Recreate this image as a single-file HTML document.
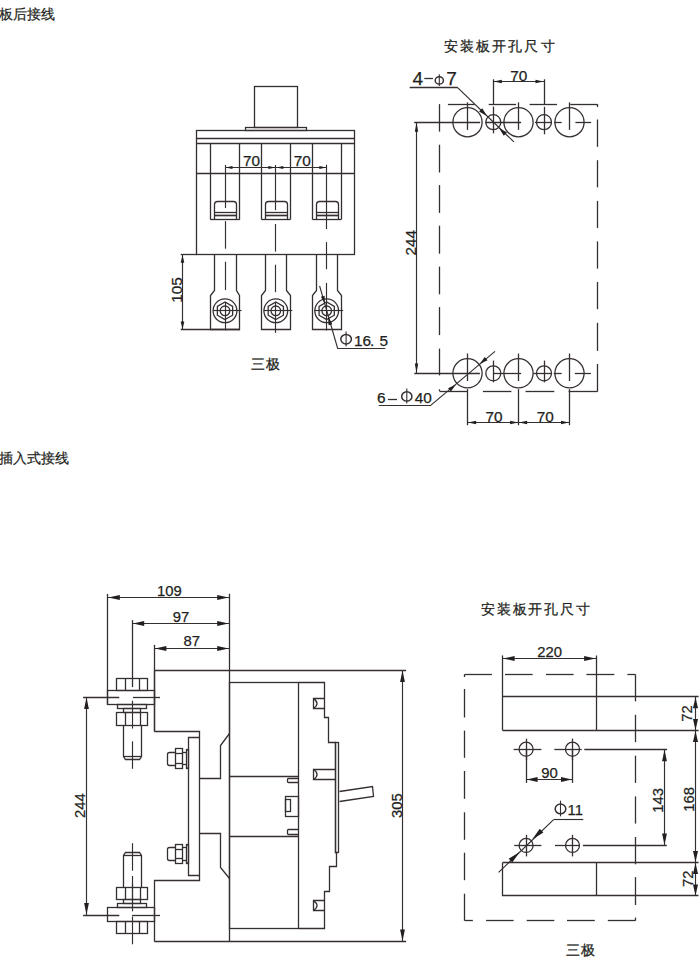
<!DOCTYPE html>
<html><head><meta charset="utf-8"><style>
html,body{margin:0;padding:0;background:#fff;}
body{width:700px;height:965px;overflow:hidden;position:relative;}
svg{position:absolute;left:0;top:0;}
text{font-family:"Liberation Sans",sans-serif;fill:#231f20;}
</style></head><body>
<svg width="700" height="965" viewBox="0 0 700 965">
<g stroke="#362f30" fill="none" stroke-linecap="butt">
<text  x="-1.0" y="19.0" font-size="13.50" text-anchor="start" stroke="#231f20" stroke-width="0.22">板后接线</text>
<text stroke="#231f20" stroke-width="0.25" x="444.0" y="51.0" font-size="14.00" text-anchor="start" letter-spacing="2.1">安装板开孔尺寸</text>
<text  x="-1.0" y="463.0" font-size="13.50" text-anchor="start" stroke="#231f20" stroke-width="0.22">插入式接线</text>
<text stroke="#231f20" stroke-width="0.25" x="481.0" y="613.5" font-size="14.00" text-anchor="start" letter-spacing="1.83">安装板开孔尺寸</text>
<text stroke="#231f20" stroke-width="0.25" x="251.0" y="369.0" font-size="14.00" text-anchor="start" letter-spacing="1">三极</text>
<text stroke="#231f20" stroke-width="0.25" x="566.0" y="954.5" font-size="14.00" text-anchor="start" letter-spacing="1">三极</text>
<rect x="254.5" y="86.5" width="43.0" height="41.0" fill="none" stroke-width="1.30"/>
<rect x="245.5" y="127.5" width="61.0" height="3.0" fill="none" stroke-width="1.30"/>
<rect x="196.5" y="130.5" width="158.0" height="124.0" fill="none" stroke-width="1.30"/>
<line x1="196.9" y1="138.5" x2="354.9" y2="138.5" stroke-width="1.30"/>
<line x1="196.9" y1="143.5" x2="354.9" y2="143.5" stroke-width="1.30"/>
<line x1="196.9" y1="173.5" x2="354.9" y2="173.5" stroke-width="1.30"/>
<line x1="210.5" y1="143.1" x2="210.5" y2="219.6" stroke-width="1.30"/>
<line x1="239.5" y1="143.1" x2="239.5" y2="219.6" stroke-width="1.30"/>
<line x1="210.4" y1="219.5" x2="239.7" y2="219.5" stroke-width="1.30"/>
<line x1="261.5" y1="143.1" x2="261.5" y2="219.6" stroke-width="1.30"/>
<line x1="290.5" y1="143.1" x2="290.5" y2="219.6" stroke-width="1.30"/>
<line x1="261.4" y1="219.5" x2="290.3" y2="219.5" stroke-width="1.30"/>
<line x1="312.5" y1="143.1" x2="312.5" y2="219.6" stroke-width="1.30"/>
<line x1="341.5" y1="143.1" x2="341.5" y2="219.6" stroke-width="1.30"/>
<line x1="312.5" y1="219.5" x2="341.2" y2="219.5" stroke-width="1.30"/>
<path d="M214.5,219.5 V204.5 Q214.5,201.5 217.5,201.5 H233.5 Q236.5,201.5 236.5,204.5 V219.5" stroke-width="1.30" fill="none"/>
<line x1="214.4" y1="212.5" x2="236.4" y2="212.5" stroke-width="1.30"/>
<line x1="214.4" y1="215.5" x2="236.4" y2="215.5" stroke-width="1.69"/>
<line x1="225.5" y1="165.0" x2="225.5" y2="208.1" stroke-width="1.17"/>
<line x1="225.5" y1="221.1" x2="225.5" y2="248.7" stroke-width="1.17"/>
<line x1="225.5" y1="261.8" x2="225.5" y2="290.1" stroke-width="1.17"/>
<line x1="225.5" y1="302.4" x2="225.5" y2="330.3" stroke-width="1.17"/>
<path d="M214.5,254.5 V290.5 L210.5,295.5 V329.5 H239.5 V295.5 L236.5,290.5 V254.5" stroke-width="1.30" fill="none"/>
<circle cx="225.0" cy="310.8" r="11.9" fill="none" stroke-width="1.30"/>
<polygon points="225.00,319.60 217.38,315.20 217.38,306.40 225.00,302.00 232.62,306.40 232.62,315.20" fill="none" stroke-width="1.3"/>
<circle cx="225.0" cy="310.8" r="4.8" fill="none" stroke-width="1.30"/>
<line x1="213.2" y1="310.5" x2="241.5" y2="310.5" stroke-width="1.17"/>
<path d="M265.5,219.5 V204.5 Q265.5,201.5 268.5,201.5 H284.5 Q287.5,201.5 287.5,204.5 V219.5" stroke-width="1.30" fill="none"/>
<line x1="265.2" y1="212.5" x2="287.2" y2="212.5" stroke-width="1.30"/>
<line x1="265.2" y1="215.5" x2="287.2" y2="215.5" stroke-width="1.69"/>
<line x1="275.5" y1="165.0" x2="275.5" y2="210.2" stroke-width="1.17"/>
<line x1="275.5" y1="224.0" x2="275.5" y2="251.6" stroke-width="1.17"/>
<line x1="275.5" y1="264.7" x2="275.5" y2="292.2" stroke-width="1.17"/>
<line x1="275.5" y1="302.0" x2="275.5" y2="332.9" stroke-width="1.17"/>
<path d="M265.5,254.5 V290.5 L261.5,295.5 V329.5 H290.5 V295.5 L286.5,290.5 V254.5" stroke-width="1.30" fill="none"/>
<circle cx="275.8" cy="310.8" r="11.9" fill="none" stroke-width="1.30"/>
<polygon points="275.80,319.60 268.18,315.20 268.18,306.40 275.80,302.00 283.42,306.40 283.42,315.20" fill="none" stroke-width="1.3"/>
<circle cx="275.8" cy="310.8" r="4.8" fill="none" stroke-width="1.30"/>
<line x1="264.0" y1="310.5" x2="292.3" y2="310.5" stroke-width="1.17"/>
<path d="M316.5,219.5 V204.5 Q316.5,201.5 319.5,201.5 H335.5 Q338.5,201.5 338.5,204.5 V219.5" stroke-width="1.30" fill="none"/>
<line x1="316.1" y1="212.5" x2="338.1" y2="212.5" stroke-width="1.30"/>
<line x1="316.1" y1="215.5" x2="338.1" y2="215.5" stroke-width="1.69"/>
<line x1="326.5" y1="164.7" x2="326.5" y2="229.0" stroke-width="1.17"/>
<line x1="326.5" y1="242.1" x2="326.5" y2="269.3" stroke-width="1.17"/>
<line x1="326.5" y1="282.9" x2="326.5" y2="330.5" stroke-width="1.17"/>
<path d="M316.5,254.5 V290.5 L312.5,295.5 V329.5 H341.5 V295.5 L337.5,290.5 V254.5" stroke-width="1.30" fill="none"/>
<circle cx="326.7" cy="310.8" r="11.9" fill="none" stroke-width="1.30"/>
<polygon points="326.70,319.60 319.08,315.20 319.08,306.40 326.70,302.00 334.32,306.40 334.32,315.20" fill="none" stroke-width="1.3"/>
<circle cx="326.7" cy="310.8" r="4.8" fill="none" stroke-width="1.30"/>
<line x1="314.9" y1="310.5" x2="343.2" y2="310.5" stroke-width="1.17"/>
<line x1="225.0" y1="167.5" x2="275.8" y2="167.5" stroke-width="1.04"/>
<line x1="275.8" y1="167.5" x2="326.8" y2="167.5" stroke-width="1.04"/>
<path d="M225.50,167.50 L232.50,165.89 L232.50,169.11 Z" fill="#231f20" stroke="none"/>
<path d="M275.30,167.50 L268.30,169.11 L268.30,165.89 Z" fill="#231f20" stroke="none"/>
<path d="M276.30,167.50 L283.30,165.89 L283.30,169.11 Z" fill="#231f20" stroke="none"/>
<path d="M326.30,167.50 L319.30,169.11 L319.30,165.89 Z" fill="#231f20" stroke="none"/>
<text stroke="#231f20" stroke-width="0.25" x="251.5" y="166.3" font-size="15.37" text-anchor="middle" >70</text>
<text stroke="#231f20" stroke-width="0.25" x="302.3" y="166.3" font-size="15.37" text-anchor="middle" >70</text>
<line x1="180.7" y1="254.5" x2="196.9" y2="254.5" stroke-width="1.30"/>
<line x1="180.7" y1="329.5" x2="240.0" y2="329.5" stroke-width="1.30"/>
<line x1="182.5" y1="254.6" x2="182.5" y2="329.6" stroke-width="1.17"/>
<path d="M182.50,255.30 L184.34,262.80 L180.66,262.80 Z" fill="#231f20" stroke="none"/>
<path d="M182.50,329.00 L180.66,321.50 L184.34,321.50 Z" fill="#231f20" stroke="none"/>
<text stroke="#231f20" stroke-width="0.25" x="0" y="0" font-size="15.37" text-anchor="middle" transform="translate(182.4,290.0) rotate(-90)" >105</text>
<line x1="319.6" y1="285.8" x2="337.8" y2="348.8" stroke-width="1.17"/>
<line x1="337.8" y1="348.5" x2="385.3" y2="348.5" stroke-width="1.17"/>
<path d="M324.80,303.40 L320.85,296.73 L324.60,295.65 Z" fill="#231f20" stroke="none"/>
<path d="M328.10,316.60 L332.33,324.23 L328.57,325.31 Z" fill="#231f20" stroke="none"/>
<line x1="346.1" y1="331.4" x2="346.1" y2="346.4" stroke-width="1.1"/>
<ellipse cx="346.1" cy="339.2" rx="5.3" ry="4.7" fill="none" stroke-width="1.5"/>
<text stroke="#231f20" stroke-width="0.25" x="354.0" y="345.6" font-size="15.37" text-anchor="start" >16</text>
<text stroke="#231f20" stroke-width="0.25" x="370.0" y="345.6" font-size="15.37" text-anchor="start" >.</text>
<text stroke="#231f20" stroke-width="0.25" x="379.5" y="345.6" font-size="15.37" text-anchor="start" >5</text>
<line x1="447.9" y1="104.5" x2="474.7" y2="104.5" stroke-width="1.30"/>
<line x1="488.7" y1="104.5" x2="516.1" y2="104.5" stroke-width="1.30"/>
<line x1="529.6" y1="104.5" x2="557.0" y2="104.5" stroke-width="1.30"/>
<line x1="570.3" y1="104.5" x2="597.7" y2="104.5" stroke-width="1.30"/>
<line x1="597.5" y1="104.2" x2="597.5" y2="107.0" stroke-width="1.30"/>
<line x1="597.5" y1="119.5" x2="597.5" y2="146.8" stroke-width="1.30"/>
<line x1="597.5" y1="160.2" x2="597.5" y2="187.4" stroke-width="1.30"/>
<line x1="597.5" y1="200.9" x2="597.5" y2="228.1" stroke-width="1.30"/>
<line x1="597.5" y1="241.4" x2="597.5" y2="268.6" stroke-width="1.30"/>
<line x1="597.5" y1="282.0" x2="597.5" y2="309.2" stroke-width="1.30"/>
<line x1="597.5" y1="322.8" x2="597.5" y2="350.9" stroke-width="1.30"/>
<line x1="597.5" y1="364.0" x2="597.5" y2="391.4" stroke-width="1.30"/>
<line x1="439.5" y1="104.1" x2="439.5" y2="131.6" stroke-width="1.30"/>
<line x1="439.5" y1="144.7" x2="439.5" y2="172.5" stroke-width="1.30"/>
<line x1="439.5" y1="185.1" x2="439.5" y2="212.9" stroke-width="1.30"/>
<line x1="439.5" y1="225.7" x2="439.5" y2="253.7" stroke-width="1.30"/>
<line x1="439.5" y1="266.6" x2="439.5" y2="294.3" stroke-width="1.30"/>
<line x1="439.5" y1="307.1" x2="439.5" y2="335.1" stroke-width="1.30"/>
<line x1="439.5" y1="348.6" x2="439.5" y2="375.4" stroke-width="1.30"/>
<line x1="439.5" y1="389.3" x2="439.5" y2="391.1" stroke-width="1.30"/>
<line x1="439.5" y1="391.5" x2="467.1" y2="391.5" stroke-width="1.30"/>
<line x1="482.9" y1="391.5" x2="511.4" y2="391.5" stroke-width="1.30"/>
<line x1="525.5" y1="391.5" x2="554.3" y2="391.5" stroke-width="1.30"/>
<line x1="568.6" y1="391.5" x2="597.7" y2="391.5" stroke-width="1.30"/>
<circle cx="467.5" cy="122.2" r="14.6" fill="none" stroke-width="1.30"/>
<line x1="467.5" y1="102.4" x2="467.5" y2="129.9" stroke-width="1.30"/>
<circle cx="518.5" cy="122.2" r="14.6" fill="none" stroke-width="1.30"/>
<line x1="518.5" y1="102.4" x2="518.5" y2="129.9" stroke-width="1.30"/>
<circle cx="569.5" cy="122.2" r="14.6" fill="none" stroke-width="1.30"/>
<line x1="569.5" y1="102.4" x2="569.5" y2="129.9" stroke-width="1.30"/>
<circle cx="493.3" cy="122.2" r="7.5" fill="none" stroke-width="1.30"/>
<circle cx="544.0" cy="122.2" r="7.5" fill="none" stroke-width="1.30"/>
<circle cx="467.5" cy="373.3" r="14.6" fill="none" stroke-width="1.30"/>
<line x1="467.5" y1="353.5" x2="467.5" y2="381.0" stroke-width="1.30"/>
<circle cx="518.5" cy="373.3" r="14.6" fill="none" stroke-width="1.30"/>
<line x1="518.5" y1="353.5" x2="518.5" y2="381.0" stroke-width="1.30"/>
<circle cx="569.5" cy="373.3" r="14.6" fill="none" stroke-width="1.30"/>
<line x1="569.5" y1="353.5" x2="569.5" y2="381.0" stroke-width="1.30"/>
<circle cx="493.3" cy="373.3" r="7.5" fill="none" stroke-width="1.30"/>
<circle cx="544.0" cy="373.3" r="7.5" fill="none" stroke-width="1.30"/>
<line x1="414.2" y1="122.5" x2="480.2" y2="122.5" stroke-width="1.30"/>
<line x1="485.6" y1="122.5" x2="521.1" y2="122.5" stroke-width="1.30"/>
<line x1="535.0" y1="122.5" x2="551.5" y2="122.5" stroke-width="1.30"/>
<line x1="554.3" y1="122.5" x2="561.7" y2="122.5" stroke-width="1.30"/>
<line x1="575.4" y1="122.5" x2="591.2" y2="122.5" stroke-width="1.30"/>
<line x1="493.5" y1="79.3" x2="493.5" y2="104.0" stroke-width="1.30"/>
<line x1="493.5" y1="106.6" x2="493.5" y2="133.3" stroke-width="1.30"/>
<line x1="544.5" y1="79.3" x2="544.5" y2="104.0" stroke-width="1.30"/>
<line x1="544.5" y1="106.8" x2="544.5" y2="134.3" stroke-width="1.30"/>
<line x1="414.3" y1="373.5" x2="479.9" y2="373.5" stroke-width="1.30"/>
<line x1="493.3" y1="373.5" x2="521.1" y2="373.5" stroke-width="1.30"/>
<line x1="533.3" y1="373.5" x2="551.5" y2="373.5" stroke-width="1.30"/>
<line x1="553.7" y1="373.5" x2="561.7" y2="373.5" stroke-width="1.30"/>
<line x1="574.9" y1="373.5" x2="590.9" y2="373.5" stroke-width="1.30"/>
<line x1="493.5" y1="360.6" x2="493.5" y2="382.3" stroke-width="1.30"/>
<line x1="544.5" y1="360.6" x2="544.5" y2="382.3" stroke-width="1.30"/>
<line x1="493.3" y1="81.5" x2="544.0" y2="81.5" stroke-width="1.17"/>
<path d="M493.80,81.50 L501.80,79.78 L501.80,83.22 Z" fill="#231f20" stroke="none"/>
<path d="M543.50,81.50 L535.50,83.22 L535.50,79.78 Z" fill="#231f20" stroke="none"/>
<text stroke="#231f20" stroke-width="0.25" x="518.8" y="81.1" font-size="15.37" text-anchor="middle" >70</text>
<line x1="409.7" y1="87.5" x2="457.9" y2="87.5" stroke-width="1.30"/>
<line x1="457.9" y1="87.9" x2="513.9" y2="141.9" stroke-width="1.17"/>
<path d="M486.90,115.90 L479.04,111.52 L482.23,108.21 Z" fill="#231f20" stroke="none"/>
<path d="M498.90,127.90 L506.98,132.49 L503.78,135.80 Z" fill="#231f20" stroke="none"/>
<text stroke="#231f20" stroke-width="0.25" x="412.5" y="85.4" font-size="19.08" text-anchor="start" >4</text>
<line x1="424.3" y1="78.5" x2="432.9" y2="78.5" stroke-width="1.30"/>
<line x1="439.3" y1="74.3" x2="439.3" y2="86.0" stroke-width="1.1"/>
<ellipse cx="439.3" cy="80.4" rx="4.1" ry="3.6" fill="none" stroke-width="1.5"/>
<text stroke="#231f20" stroke-width="0.25" x="446.3" y="85.4" font-size="19.08" text-anchor="start" >7</text>
<line x1="416.5" y1="122.2" x2="416.5" y2="373.1" stroke-width="1.17"/>
<path d="M416.50,122.70 L418.23,131.70 L414.77,131.70 Z" fill="#231f20" stroke="none"/>
<path d="M416.50,372.60 L414.77,363.60 L418.23,363.60 Z" fill="#231f20" stroke="none"/>
<text stroke="#231f20" stroke-width="0.25" x="0" y="0" font-size="15.37" text-anchor="middle" transform="translate(416.0,242.8) rotate(-90)" >244</text>
<line x1="495.0" y1="351.4" x2="430.1" y2="405.9" stroke-width="1.17"/>
<line x1="430.1" y1="405.5" x2="378.7" y2="405.5" stroke-width="1.17"/>
<path d="M479.60,364.00 L484.76,356.90 L487.54,360.27 Z" fill="#231f20" stroke="none"/>
<path d="M456.00,384.40 L450.84,391.50 L448.06,388.13 Z" fill="#231f20" stroke="none"/>
<text stroke="#231f20" stroke-width="0.25" x="377.0" y="403.0" font-size="15.37" text-anchor="start" >6</text>
<line x1="387.9" y1="399.5" x2="397.0" y2="399.5" stroke-width="1.30"/>
<line x1="406.8" y1="388.5" x2="406.8" y2="403.6" stroke-width="1.1"/>
<ellipse cx="406.8" cy="396.4" rx="5.1" ry="4.7" fill="none" stroke-width="1.5"/>
<text stroke="#231f20" stroke-width="0.25" x="414.8" y="403.0" font-size="15.37" text-anchor="start" >40</text>
<line x1="467.5" y1="389.1" x2="467.5" y2="425.2" stroke-width="1.30"/>
<line x1="518.5" y1="389.1" x2="518.5" y2="425.2" stroke-width="1.30"/>
<line x1="569.5" y1="389.1" x2="569.5" y2="425.2" stroke-width="1.30"/>
<line x1="467.6" y1="422.5" x2="569.5" y2="422.5" stroke-width="1.17"/>
<path d="M468.10,422.50 L476.10,420.77 L476.10,424.23 Z" fill="#231f20" stroke="none"/>
<path d="M518.10,422.50 L510.10,424.23 L510.10,420.77 Z" fill="#231f20" stroke="none"/>
<path d="M519.10,422.50 L527.10,420.77 L527.10,424.23 Z" fill="#231f20" stroke="none"/>
<path d="M569.00,422.50 L561.00,424.23 L561.00,420.77 Z" fill="#231f20" stroke="none"/>
<text stroke="#231f20" stroke-width="0.25" x="494.1" y="422.2" font-size="15.37" text-anchor="middle" >70</text>
<text stroke="#231f20" stroke-width="0.25" x="545.3" y="422.2" font-size="15.37" text-anchor="middle" >70</text>
<line x1="107.5" y1="593.9" x2="107.5" y2="704.4" stroke-width="1.30"/>
<line x1="132.5" y1="620.1" x2="132.5" y2="687.1" stroke-width="1.30"/>
<line x1="154.5" y1="644.8" x2="154.5" y2="731.5" stroke-width="1.30"/>
<line x1="229.5" y1="593.7" x2="229.5" y2="941.6" stroke-width="1.30"/>
<line x1="107.8" y1="597.5" x2="229.2" y2="597.5" stroke-width="1.17"/>
<line x1="132.2" y1="623.5" x2="229.2" y2="623.5" stroke-width="1.17"/>
<line x1="154.4" y1="648.5" x2="229.2" y2="648.5" stroke-width="1.17"/>
<path d="M108.30,597.50 L119.80,595.09 L119.80,599.91 Z" fill="#231f20" stroke="none"/>
<path d="M228.70,597.50 L217.20,599.91 L217.20,595.09 Z" fill="#231f20" stroke="none"/>
<path d="M132.70,623.50 L144.20,621.09 L144.20,625.91 Z" fill="#231f20" stroke="none"/>
<path d="M228.70,623.50 L217.20,625.91 L217.20,621.09 Z" fill="#231f20" stroke="none"/>
<path d="M154.90,648.50 L166.40,646.09 L166.40,650.91 Z" fill="#231f20" stroke="none"/>
<path d="M228.70,648.50 L217.20,650.91 L217.20,646.09 Z" fill="#231f20" stroke="none"/>
<text stroke="#231f20" stroke-width="0.25" x="169.3" y="595.6" font-size="14.84" text-anchor="middle" >109</text>
<text stroke="#231f20" stroke-width="0.25" x="181.1" y="622.1" font-size="14.84" text-anchor="middle" >97</text>
<text stroke="#231f20" stroke-width="0.25" x="191.8" y="646.4" font-size="14.84" text-anchor="middle" >87</text>
<line x1="154.4" y1="670.5" x2="406.1" y2="670.5" stroke-width="1.30"/>
<line x1="154.4" y1="941.5" x2="406.1" y2="941.5" stroke-width="1.30"/>
<line x1="402.5" y1="670.0" x2="402.5" y2="941.6" stroke-width="1.17"/>
<path d="M402.50,670.50 L404.92,682.00 L400.08,682.00 Z" fill="#231f20" stroke="none"/>
<path d="M402.50,941.10 L400.08,929.60 L404.92,929.60 Z" fill="#231f20" stroke="none"/>
<text stroke="#231f20" stroke-width="0.25" x="0" y="0" font-size="14.84" text-anchor="middle" transform="translate(401.6,805.5) rotate(-90)" >305</text>
<line x1="83.1" y1="697.5" x2="119.3" y2="697.5" stroke-width="1.30"/>
<line x1="132.9" y1="697.5" x2="160.0" y2="697.5" stroke-width="1.30"/>
<line x1="83.1" y1="915.5" x2="119.3" y2="915.5" stroke-width="1.30"/>
<line x1="132.1" y1="915.5" x2="160.0" y2="915.5" stroke-width="1.30"/>
<line x1="86.5" y1="697.1" x2="86.5" y2="915.0" stroke-width="1.17"/>
<path d="M86.50,697.60 L88.92,709.10 L84.08,709.10 Z" fill="#231f20" stroke="none"/>
<path d="M86.50,914.50 L84.08,903.00 L88.92,903.00 Z" fill="#231f20" stroke="none"/>
<text stroke="#231f20" stroke-width="0.25" x="0" y="0" font-size="14.84" text-anchor="middle" transform="translate(84.8,805.7) rotate(-90)" >244</text>
<path d="M154.5,731.5 H199.5 V880.5 H154.5 V941.5" stroke-width="1.30" fill="none"/>
<path d="M154.5,670.5 V731.5" stroke-width="1.30" fill="none"/>
<path d="M199.5,737.5 H188.5 V875.5 H199.5" stroke-width="1.30" fill="none"/>
<path d="M199.5,778.5 H220.5 V745.5 L229.5,733.5" stroke-width="1.30" fill="none"/>
<path d="M199.5,833.5 H220.5 V867.5 L229.5,878.5" stroke-width="1.30" fill="none"/>
<rect x="116.5" y="678.5" width="31.0" height="12.0" fill="none" stroke-width="1.30"/>
<line x1="125.5" y1="678.3" x2="125.5" y2="690.3" stroke-width="1.30"/>
<line x1="139.5" y1="678.3" x2="139.5" y2="690.3" stroke-width="1.30"/>
<rect x="107.5" y="690.5" width="47.0" height="14.0" fill="none" stroke-width="1.30"/>
<rect x="117.5" y="704.5" width="29.0" height="4.0" fill="none" stroke-width="1.30"/>
<rect x="123.5" y="708.5" width="17.0" height="4.0" fill="none" stroke-width="1.30"/>
<rect x="116.5" y="712.5" width="31.0" height="13.0" fill="none" stroke-width="1.30"/>
<line x1="125.5" y1="712.9" x2="125.5" y2="725.0" stroke-width="1.30"/>
<line x1="140.5" y1="712.9" x2="140.5" y2="725.0" stroke-width="1.30"/>
<path d="M123.5,725.5 V756.5 L125.5,759.5 H139.5 L141.5,756.5 V725.5" stroke-width="1.30" fill="none"/>
<line x1="123.6" y1="756.5" x2="141.0" y2="756.5" stroke-width="1.30"/>
<line x1="132.5" y1="700.7" x2="132.5" y2="728.6" stroke-width="1.17"/>
<line x1="132.5" y1="741.3" x2="132.5" y2="768.8" stroke-width="1.17"/>
<rect x="116.5" y="921.5" width="31.0" height="12.0" fill="none" stroke-width="1.30"/>
<line x1="125.5" y1="933.7" x2="125.5" y2="921.7" stroke-width="1.30"/>
<line x1="139.5" y1="933.7" x2="139.5" y2="921.7" stroke-width="1.30"/>
<rect x="107.5" y="907.5" width="47.0" height="14.0" fill="none" stroke-width="1.30"/>
<rect x="117.5" y="903.5" width="29.0" height="4.0" fill="none" stroke-width="1.30"/>
<rect x="123.5" y="899.5" width="17.0" height="4.0" fill="none" stroke-width="1.30"/>
<rect x="116.5" y="887.5" width="31.0" height="12.0" fill="none" stroke-width="1.30"/>
<line x1="125.5" y1="899.1" x2="125.5" y2="887.0" stroke-width="1.30"/>
<line x1="140.5" y1="899.1" x2="140.5" y2="887.0" stroke-width="1.30"/>
<path d="M123.5,887.5 V855.5 L125.5,852.5 H139.5 L141.5,855.5 V887.5" stroke-width="1.30" fill="none"/>
<line x1="123.6" y1="855.5" x2="141.0" y2="855.5" stroke-width="1.30"/>
<line x1="132.5" y1="911.3" x2="132.5" y2="883.4" stroke-width="1.17"/>
<line x1="132.5" y1="870.7" x2="132.5" y2="843.2" stroke-width="1.17"/>
<line x1="132.5" y1="876.0" x2="132.5" y2="903.0" stroke-width="1.17"/>
<line x1="132.5" y1="916.5" x2="132.5" y2="944.3" stroke-width="1.17"/>
<rect x="175.5" y="748.5" width="7.0" height="20.0" fill="none" stroke-width="1.30"/>
<line x1="175.3" y1="753.5" x2="182.9" y2="753.5" stroke-width="1.30"/>
<line x1="175.3" y1="763.5" x2="182.9" y2="763.5" stroke-width="1.30"/>
<rect x="186.5" y="749.5" width="2.0" height="19.0" fill="none" stroke-width="1.30"/>
<line x1="182.9" y1="752.5" x2="186.3" y2="752.5" stroke-width="1.30"/>
<line x1="182.9" y1="764.5" x2="186.3" y2="764.5" stroke-width="1.30"/>
<path d="M175.5,752.5 H169.5 Q167.5,752.5 167.5,754.5 V763.5 Q167.5,765.5 169.5,765.5 H175.5" stroke-width="1.30" fill="none"/>
<rect x="175.5" y="844.5" width="7.0" height="19.0" fill="none" stroke-width="1.30"/>
<line x1="175.3" y1="849.5" x2="182.9" y2="849.5" stroke-width="1.30"/>
<line x1="175.3" y1="858.5" x2="182.9" y2="858.5" stroke-width="1.30"/>
<rect x="186.5" y="844.5" width="2.0" height="19.0" fill="none" stroke-width="1.30"/>
<line x1="182.9" y1="847.5" x2="186.3" y2="847.5" stroke-width="1.30"/>
<line x1="182.9" y1="860.5" x2="186.3" y2="860.5" stroke-width="1.30"/>
<path d="M175.5,847.5 H169.5 Q167.5,847.5 167.5,849.5 V858.5 Q167.5,860.5 169.5,860.5 H175.5" stroke-width="1.30" fill="none"/>
<rect x="229.5" y="682.5" width="69.0" height="246.0" fill="none" stroke-width="1.30"/>
<line x1="229.2" y1="776.5" x2="298.7" y2="776.5" stroke-width="1.30"/>
<line x1="229.2" y1="836.5" x2="298.7" y2="836.5" stroke-width="1.30"/>
<path d="M298.5,778.5 H288.5 Q287.5,778.5 287.5,779.5 V781.5 Q287.5,782.5 288.5,782.5 H298.5" stroke-width="1.30" fill="none"/>
<path d="M298.5,829.5 H288.5 Q287.5,829.5 287.5,830.5 V833.5 Q287.5,834.5 288.5,834.5 H298.5" stroke-width="1.30" fill="none"/>
<rect x="285.5" y="796.5" width="13.0" height="20.0" fill="none" stroke-width="1.30"/>
<rect x="285.5" y="799.5" width="5.0" height="12.0" fill="none" stroke-width="1.30"/>
<path d="M298.5,682.5 H324.5 V717.5 H328.5 V742.5 H335.5 V852.5 H336.5 V866.5 H329.5 V891.5 H324.5 V928.5 H298.5" stroke-width="1.30" fill="none"/>
<rect x="335.5" y="742.5" width="3.0" height="110.0" fill="none" stroke-width="1.30"/>
<path d="M324.5,698.5 H313.5 V708.5 H324.5" stroke-width="1.30" fill="none"/>
<path d="M313.6,698.6 Q320.5,703.5 313.6,708.3" stroke-width="1.30" fill="none"/>
<path d="M335.5,769.5 H313.5 V779.5 H335.5" stroke-width="1.30" fill="none"/>
<path d="M313.6,769.2 Q320.5,774.4 313.6,779.5" stroke-width="1.30" fill="none"/>
<path d="M324.5,900.5 H313.5 V910.5 H324.5" stroke-width="1.30" fill="none"/>
<path d="M313.6,900.9 Q320.5,905.6 313.6,910.3" stroke-width="1.30" fill="none"/>
<path d="M339.5,791.5 L372.5,786.5 L373.5,796.5 L339.5,801.5" stroke-width="1.30" fill="none"/>
<line x1="464.6" y1="674.5" x2="491.9" y2="674.5" stroke-width="1.30"/>
<line x1="505.0" y1="674.5" x2="532.6" y2="674.5" stroke-width="1.30"/>
<line x1="546.0" y1="674.5" x2="573.6" y2="674.5" stroke-width="1.30"/>
<line x1="586.4" y1="674.5" x2="614.3" y2="674.5" stroke-width="1.30"/>
<line x1="627.4" y1="674.5" x2="635.3" y2="674.5" stroke-width="1.30"/>
<line x1="464.5" y1="674.3" x2="464.5" y2="677.0" stroke-width="1.30"/>
<line x1="464.5" y1="689.0" x2="464.5" y2="717.5" stroke-width="1.30"/>
<line x1="464.5" y1="730.6" x2="464.5" y2="757.8" stroke-width="1.30"/>
<line x1="464.5" y1="771.0" x2="464.5" y2="798.8" stroke-width="1.30"/>
<line x1="464.5" y1="812.3" x2="464.5" y2="839.8" stroke-width="1.30"/>
<line x1="464.5" y1="852.7" x2="464.5" y2="880.2" stroke-width="1.30"/>
<line x1="464.5" y1="893.7" x2="464.5" y2="920.7" stroke-width="1.30"/>
<line x1="635.5" y1="674.3" x2="635.5" y2="701.4" stroke-width="1.30"/>
<line x1="635.5" y1="714.8" x2="635.5" y2="742.2" stroke-width="1.30"/>
<line x1="635.5" y1="755.7" x2="635.5" y2="782.9" stroke-width="1.30"/>
<line x1="635.5" y1="796.4" x2="635.5" y2="823.6" stroke-width="1.30"/>
<line x1="635.5" y1="837.0" x2="635.5" y2="864.3" stroke-width="1.30"/>
<line x1="635.5" y1="877.1" x2="635.5" y2="905.0" stroke-width="1.30"/>
<line x1="635.5" y1="917.6" x2="635.5" y2="920.7" stroke-width="1.30"/>
<line x1="464.7" y1="920.5" x2="472.9" y2="920.5" stroke-width="1.30"/>
<line x1="486.1" y1="920.5" x2="513.6" y2="920.5" stroke-width="1.30"/>
<line x1="526.7" y1="920.5" x2="554.3" y2="920.5" stroke-width="1.30"/>
<line x1="567.0" y1="920.5" x2="594.8" y2="920.5" stroke-width="1.30"/>
<line x1="607.8" y1="920.5" x2="635.3" y2="920.5" stroke-width="1.30"/>
<line x1="502.5" y1="655.4" x2="502.5" y2="730.4" stroke-width="1.30"/>
<line x1="596.5" y1="655.5" x2="596.5" y2="730.4" stroke-width="1.30"/>
<line x1="502.6" y1="658.5" x2="596.1" y2="658.5" stroke-width="1.17"/>
<path d="M503.10,658.50 L514.60,656.09 L514.60,660.91 Z" fill="#231f20" stroke="none"/>
<path d="M595.60,658.50 L584.10,660.91 L584.10,656.09 Z" fill="#231f20" stroke="none"/>
<text stroke="#231f20" stroke-width="0.25" x="549.6" y="656.9" font-size="14.84" text-anchor="middle" >220</text>
<line x1="502.6" y1="696.5" x2="698.6" y2="696.5" stroke-width="1.30"/>
<line x1="502.6" y1="730.5" x2="698.6" y2="730.5" stroke-width="1.30"/>
<path d="M502.5,862.5 V895.5 H698.5" stroke-width="1.30" fill="none"/>
<line x1="502.6" y1="862.5" x2="698.6" y2="862.5" stroke-width="1.30"/>
<line x1="596.5" y1="862.6" x2="596.5" y2="895.9" stroke-width="1.30"/>
<circle cx="526.1" cy="749.2" r="7.0" fill="none" stroke-width="1.30"/>
<line x1="526.5" y1="738.6" x2="526.5" y2="760.2" stroke-width="1.30"/>
<circle cx="572.5" cy="749.2" r="7.0" fill="none" stroke-width="1.30"/>
<line x1="572.5" y1="738.6" x2="572.5" y2="760.2" stroke-width="1.30"/>
<circle cx="526.1" cy="845.4" r="7.0" fill="none" stroke-width="1.30"/>
<line x1="526.5" y1="834.8" x2="526.5" y2="856.4" stroke-width="1.30"/>
<circle cx="572.5" cy="845.4" r="7.0" fill="none" stroke-width="1.30"/>
<line x1="572.5" y1="834.8" x2="572.5" y2="856.4" stroke-width="1.30"/>
<line x1="513.6" y1="749.5" x2="541.4" y2="749.5" stroke-width="1.30"/>
<line x1="554.3" y1="749.5" x2="581.7" y2="749.5" stroke-width="1.30"/>
<line x1="584.3" y1="749.5" x2="667.1" y2="749.5" stroke-width="1.30"/>
<line x1="514.3" y1="845.5" x2="541.4" y2="845.5" stroke-width="1.30"/>
<line x1="555.0" y1="845.5" x2="580.0" y2="845.5" stroke-width="1.30"/>
<line x1="582.9" y1="845.5" x2="666.8" y2="845.5" stroke-width="1.30"/>
<line x1="526.5" y1="749.2" x2="526.5" y2="782.9" stroke-width="1.30"/>
<line x1="572.5" y1="749.2" x2="572.5" y2="782.9" stroke-width="1.30"/>
<line x1="526.1" y1="779.5" x2="572.5" y2="779.5" stroke-width="1.17"/>
<path d="M526.60,779.50 L537.60,776.97 L537.60,782.03 Z" fill="#231f20" stroke="none"/>
<path d="M572.00,779.50 L561.00,782.03 L561.00,776.97 Z" fill="#231f20" stroke="none"/>
<text stroke="#231f20" stroke-width="0.25" x="549.4" y="777.9" font-size="14.84" text-anchor="middle" >90</text>
<line x1="664.5" y1="749.2" x2="664.5" y2="845.4" stroke-width="1.17"/>
<path d="M664.50,749.70 L666.91,761.20 L662.09,761.20 Z" fill="#231f20" stroke="none"/>
<path d="M664.50,844.90 L662.09,833.40 L666.91,833.40 Z" fill="#231f20" stroke="none"/>
<text stroke="#231f20" stroke-width="0.25" x="0" y="0" font-size="14.84" text-anchor="middle" transform="translate(662.6,800.4) rotate(-90)" >143</text>
<line x1="695.5" y1="697.0" x2="695.5" y2="895.9" stroke-width="1.17"/>
<path d="M695.50,697.20 L698.03,708.20 L692.97,708.20 Z" fill="#231f20" stroke="none"/>
<path d="M695.50,729.90 L692.97,718.90 L698.03,718.90 Z" fill="#231f20" stroke="none"/>
<path d="M695.50,730.90 L698.03,741.90 L692.97,741.90 Z" fill="#231f20" stroke="none"/>
<path d="M695.50,862.10 L692.97,851.10 L698.03,851.10 Z" fill="#231f20" stroke="none"/>
<path d="M695.50,863.10 L698.03,874.10 L692.97,874.10 Z" fill="#231f20" stroke="none"/>
<path d="M695.50,895.40 L692.97,884.40 L698.03,884.40 Z" fill="#231f20" stroke="none"/>
<text stroke="#231f20" stroke-width="0.25" x="0" y="0" font-size="14.84" text-anchor="middle" transform="translate(691.6,713.4) rotate(-90)" >72</text>
<text stroke="#231f20" stroke-width="0.25" x="0" y="0" font-size="14.84" text-anchor="middle" transform="translate(693.8,799.3) rotate(-90)" >168</text>
<text stroke="#231f20" stroke-width="0.25" x="0" y="0" font-size="14.84" text-anchor="middle" transform="translate(693.0,878.7) rotate(-90)" >72</text>
<line x1="553.6" y1="819.5" x2="583.3" y2="819.5" stroke-width="1.17"/>
<line x1="553.6" y1="819.7" x2="498.6" y2="872.4" stroke-width="1.17"/>
<path d="M532.10,839.50 L539.79,828.69 L543.40,832.55 Z" fill="#231f20" stroke="none"/>
<path d="M519.60,852.10 L512.28,862.57 L508.67,858.71 Z" fill="#231f20" stroke="none"/>
<line x1="560.5" y1="800.7" x2="560.5" y2="816.4" stroke-width="1.1"/>
<ellipse cx="560.5" cy="808.9" rx="5.3" ry="4.9" fill="none" stroke-width="1.5"/>
<text stroke="#231f20" stroke-width="0.25" x="567.5" y="815.0" font-size="14.84" text-anchor="start" >11</text>
</g>
</svg>
</body></html>
